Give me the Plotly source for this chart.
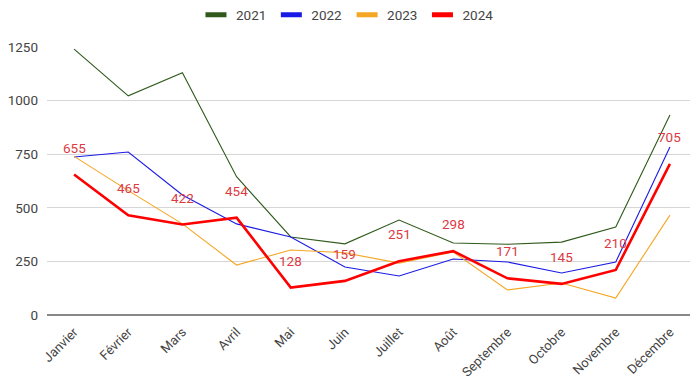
import plotly.graph_objects as go

months = ["Janvier", "Février", "Mars", "Avril", "Mai", "Juin", "Juillet",
          "Août", "Septembre", "Octobre", "Novembre", "Décembre"]
v2021 = [1240, 1022, 1130, 645, 364, 332, 443, 336, 330, 340, 410, 933]
v2022 = [737, 760, 560, 425, 364, 224, 182, 261, 247, 196, 247, 784]
v2023 = [740, 580, 425, 233, 303, 290, 242, 294, 117, 149, 79, 466]
v2024 = [655, 465, 422, 454, 128, 159, 251, 298, 171, 145, 210, 705]

series = [
    ("2021", v2021, "#2f5a1c", 1.1),
    ("2022", v2022, "#1a1ae6", 1.1),
    ("2023", v2023, "#f5a623", 1.1),
    ("2024", v2024, "#ff0000", 2.6),
]

FONT = "Roboto, Arial, sans-serif"
TXT = "#444444"

fig = go.Figure()
for name, vals, col, w in series:
    fig.add_trace(go.Scatter(x=months, y=vals, mode="lines", name=name,
                             line=dict(color=col, width=w), showlegend=False,
                             hoverinfo="x+y+name"))
# legend-only swatches
for name, vals, col, w in series:
    fig.add_trace(go.Scatter(x=[None], y=[None], mode="markers", name=name,
                             marker=dict(symbol="line-ew", size=15, color=col,
                                         line=dict(color=col, width=5)),
                             showlegend=True))

for m, v in zip(months, v2024):
    fig.add_annotation(x=m, y=v, text=str(v), showarrow=False, yshift=27,
                       font=dict(family=FONT, size=13.5, color="#dc3a44"))

W, H = 690, 381  # page body has an 8px margin
fig.update_layout(
    width=W, height=H,
    margin=dict(l=39, r=1, t=39, b=74, autoexpand=False),
    paper_bgcolor="white", plot_bgcolor="white",
    font=dict(family=FONT, size=13, color=TXT),
    legend=dict(orientation="h", xref="container", yref="container",
                x=0.492, xanchor="center", y=1 - 7 / H, yanchor="middle",
                font=dict(size=13.5, color=TXT), itemwidth=30,
                bgcolor="rgba(0,0,0,0)"),
    xaxis=dict(type="category", range=[-0.5, 11.5], tickangle=-45,
               showgrid=False, showline=False, zeroline=False, ticks="",
               automargin=False, ticklabelstandoff=6,
               tickfont=dict(size=13, color=TXT)),
    yaxis=dict(range=[0, 1250], tickvals=[0, 250, 500, 750, 1000, 1250],
               showgrid=True, gridcolor="#d6d6d6", gridwidth=1,
               zeroline=True, zerolinecolor="#888888", zerolinewidth=2,
               ticks="", ticklabelstandoff=8, automargin=False,
               tickfont=dict(size=13.5, color=TXT)),
    showlegend=True,
)

fig.write_html("out.html")
